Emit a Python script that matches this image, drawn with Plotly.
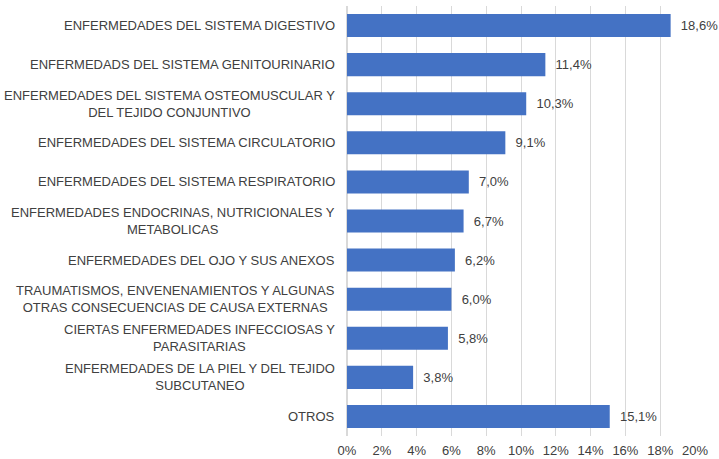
import plotly.graph_objects as go

# Data (top to bottom)
categories = [
    "ENFERMEDADES DEL SISTEMA DIGESTIVO",
    "ENFERMEDADS DEL SISTEMA GENITOURINARIO",
    "ENFERMEDADES DEL SISTEMA OSTEOMUSCULAR Y<br>DEL TEJIDO CONJUNTIVO",
    "ENFERMEDADES DEL SISTEMA CIRCULATORIO",
    "ENFERMEDADES DEL SISTEMA RESPIRATORIO",
    "ENFERMEDADES ENDOCRINAS, NUTRICIONALES Y<br>METABOLICAS",
    "ENFERMEDADES DEL OJO Y SUS ANEXOS",
    "TRAUMATISMOS, ENVENENAMIENTOS Y ALGUNAS<br>OTRAS CONSECUENCIAS DE CAUSA EXTERNAS",
    "CIERTAS ENFERMEDADES INFECCIOSAS Y<br>PARASITARIAS",
    "ENFERMEDADES DE LA PIEL Y DEL TEJIDO<br>SUBCUTANEO",
    "OTROS",
]
percentages = [18.6, 11.4, 10.3, 9.1, 7.0, 6.7, 6.2, 6.0, 5.8, 3.8, 15.1]
tick_values = [0, 2, 4, 6, 8, 10, 12, 14, 16, 18, 20]
tick_labels = [f"{v}%" for v in tick_values]

text_color = "#404040"
font_family = "Liberation Sans, Arial, sans-serif"

fig = go.Figure()

fig.add_trace(go.Bar(
    x=percentages,
    y=categories,
    orientation="h",
    marker=dict(color="#4472C4", line=dict(width=0)),
    text=percentages,
    texttemplate="\u00a0\u00a0%{x:.1f}%",
    textposition="outside",
    constraintext="none",
    cliponaxis=False,
    outsidetextfont=dict(size=13, color=text_color, family=font_family),
    hoverinfo="skip",
))

# Category labels as annotations so wrapped lines are centred like the original
for cat in categories:
    fig.add_annotation(
        x=0, xref="paper",
        y=cat, yref="y",
        text=cat,
        xanchor="right",
        yanchor="middle",
        align="center",
        xshift=-10,
        showarrow=False,
        font=dict(size=13, color=text_color, family=font_family),
    )

fig.update_layout(
    width=719,
    height=459,
    margin=dict(l=347, r=24, t=6, b=23),
    paper_bgcolor="white",
    plot_bgcolor="white",
    bargap=0.41,
    showlegend=False,
    separators=",.",
    font=dict(family=font_family, size=13, color=text_color),
)

fig.update_xaxes(
    range=[0, 20],
    tickmode="array",
    tickvals=tick_values,
    ticktext=tick_labels,
    showgrid=True,
    gridcolor="#D9D9D9",
    gridwidth=1,
    zeroline=True,
    zerolinecolor="#D9D9D9",
    showline=False,
    ticks="",
    ticklabelstandoff=5,
    automargin=False,
    tickfont=dict(size=13, color=text_color, family=font_family),
)

fig.update_yaxes(
    autorange="reversed",
    showticklabels=False,
    showgrid=False,
    zeroline=False,
    showline=False,
    ticks="",
    automargin=False,
)

# drop the default page margin so the chart sits at the window's corner
fig.write_html(
    "out.html",
    config={"displayModeBar": False},
    post_script="document.body.style.margin='0';",
)
